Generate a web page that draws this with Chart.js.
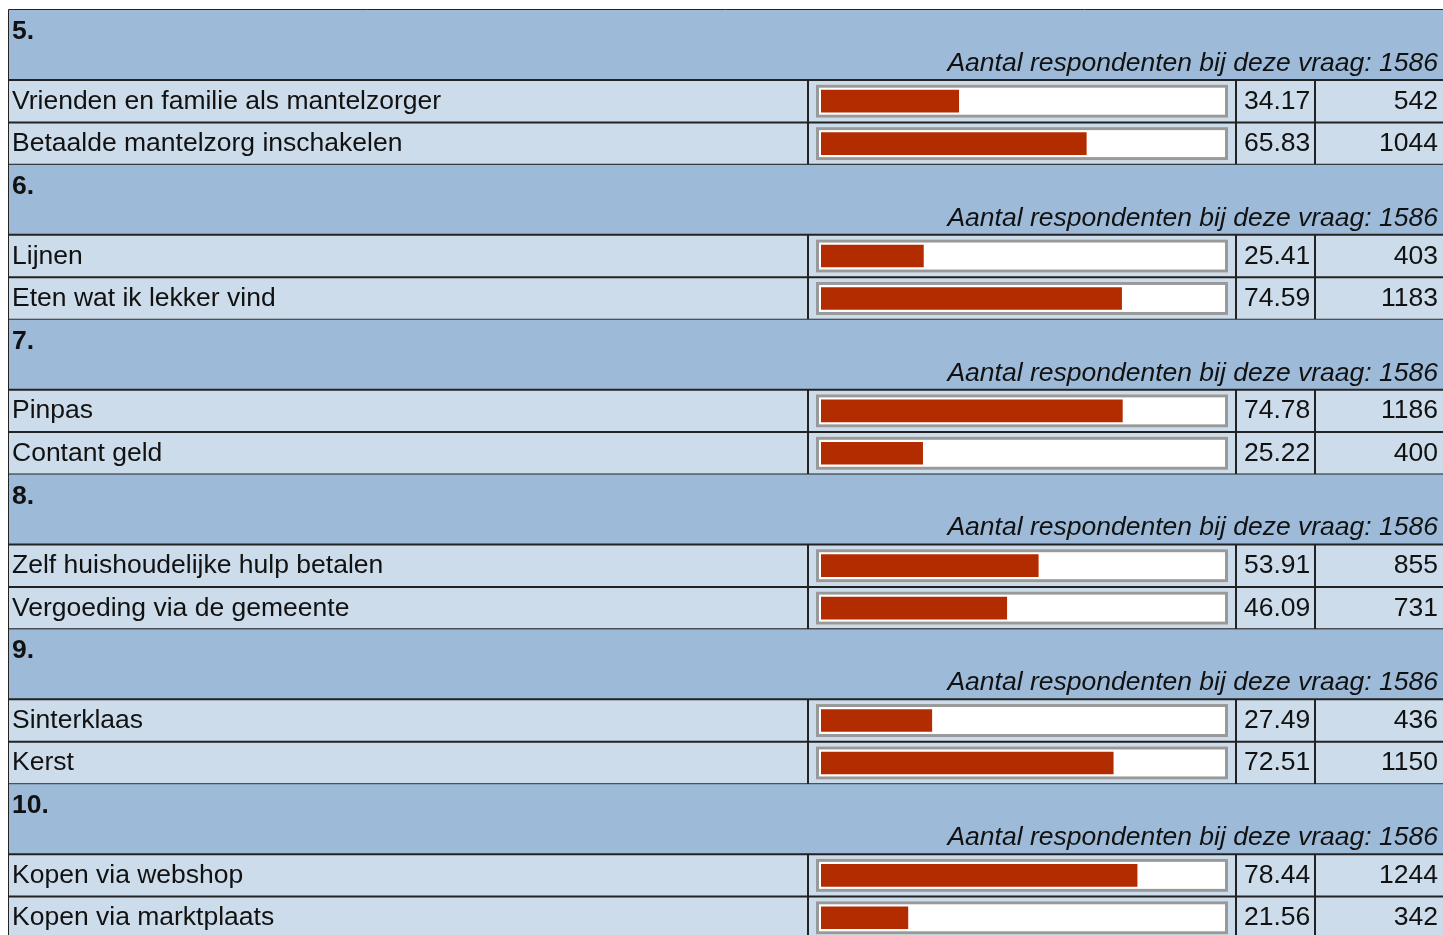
<!DOCTYPE html>
<html>
<head>
<meta charset="utf-8">
<title>Enquête resultaten</title>
<script src="https://cdn.jsdelivr.net/npm/chart.js@4/dist/chart.umd.min.js"></script>
<style>
  html, body { margin: 0; padding: 0; background: #fff; overflow: hidden; }
  #wrap { position: relative; width: 1443px; height: 945px; }
</style>
</head>
<body>
<div id="wrap"><canvas id="results"></canvas></div>
<script>
// survey data, one entry per question
const questions = ['5.', '6.', '7.', '8.', '9.', '10.'];
const respondents = [1586, 1586, 1586, 1586, 1586, 1586];
const answers = [
  ['Vrienden en familie als mantelzorger', 'Betaalde mantelzorg inschakelen'],
  ['Lijnen', 'Eten wat ik lekker vind'],
  ['Pinpas', 'Contant geld'],
  ['Zelf huishoudelijke hulp betalen', 'Vergoeding via de gemeente'],
  ['Sinterklaas', 'Kerst'],
  ['Kopen via webshop', 'Kopen via marktplaats']
];
const percentages = [
  [34.17, 65.83],
  [25.41, 74.59],
  [74.78, 25.22],
  [53.91, 46.09],
  [27.49, 72.51],
  [78.44, 21.56]
];
const counts = [
  [542, 1044],
  [403, 1183],
  [1186, 400],
  [855, 731],
  [436, 1150],
  [1244, 342]
];

// row heights in y-scale units (answer row = 1)
const HEAD = 1.65;
const BLOCK = HEAD + 2;

const rowCenter = (q, i) => q * BLOCK + HEAD + i + 0.5;

const barPoints = [];
percentages.forEach((vals, q) => {
  vals.forEach((v, i) => barPoints.push({ x: v, y: rowCenter(q, i) }));
});

const FONT = '"Liberation Sans", Arial, sans-serif';
const COL_LABEL = 808, COL_PCT = 1236, COL_CNT = 1315;

// table backgrounds, grid lines and the bar tracks
const tablePlugin = {
  id: 'tablePlugin',
  beforeDatasetsDraw(chart) {
    const ctx = chart.ctx;
    const y = chart.scales.y;
    const x = chart.scales.x;
    const W = chart.width;
    const left = 8;

    ctx.save();
    questions.forEach((q, qi) => {
      const top = y.getPixelForValue(qi * BLOCK);
      const headBottom = y.getPixelForValue(qi * BLOCK + HEAD);
      const end = y.getPixelForValue((qi + 1) * BLOCK);

      ctx.fillStyle = '#9dbbd9';
      ctx.fillRect(left, top, W - left, headBottom - top);
      ctx.fillStyle = '#cddcea';
      ctx.fillRect(left, headBottom, W - left, end - headBottom);

      // bar tracks
      answers[qi].forEach((a, i) => {
        const cy = y.getPixelForValue(rowCenter(qi, i));
        const x0 = x.getPixelForValue(0) - 5;
        const x1 = x.getPixelForValue(100) + 4;
        ctx.fillStyle = '#fff';
        ctx.fillRect(x0, cy - 16.5, x1 - x0, 33);
        ctx.strokeStyle = '#999';
        ctx.lineWidth = 3;
        ctx.strokeRect(x0 + 1.5, cy - 15, x1 - x0 - 3, 30);
      });

      // grid lines
      ctx.strokeStyle = '#222';
      ctx.lineWidth = 2;
      [headBottom, y.getPixelForValue(qi * BLOCK + HEAD + 1), end].forEach(ly => {
        ctx.beginPath();
        ctx.moveTo(left, ly);
        ctx.lineTo(W, ly);
        ctx.stroke();
      });
      [COL_LABEL, COL_PCT, COL_CNT].forEach(lx => {
        ctx.beginPath();
        ctx.moveTo(lx, headBottom);
        ctx.lineTo(lx, end);
        ctx.stroke();
      });

      // header texts
      ctx.fillStyle = '#111';
      ctx.textBaseline = 'alphabetic';
      ctx.font = `bold 26.5px ${FONT}`;
      ctx.textAlign = 'left';
      ctx.fillText(q, 12, top + 29);
      ctx.font = `italic 26.5px ${FONT}`;
      ctx.textAlign = 'right';
      ctx.fillText('Aantal respondenten bij deze vraag: ' + respondents[qi], 1438, headBottom - 9);

      // answer rows
      ctx.font = `26.5px ${FONT}`;
      answers[qi].forEach((a, i) => {
        const cy = y.getPixelForValue(rowCenter(qi, i));
        ctx.textAlign = 'left';
        ctx.fillText(a, 12, cy + 7.5);
        ctx.fillText(percentages[qi][i].toFixed(2), 1244, cy + 7.5);
        ctx.textAlign = 'right';
        ctx.fillText(String(counts[qi][i]), 1438, cy + 7.5);
      });
    });

    // outer border
    ctx.strokeStyle = '#222';
    ctx.lineWidth = 1;
    ctx.beginPath();
    ctx.moveTo(W, 9.5);
    ctx.lineTo(left + 0.5, 9.5);
    ctx.lineTo(left + 0.5, chart.height);
    ctx.stroke();
    ctx.restore();
  }
};

new Chart(document.getElementById('results'), {
  type: 'bar',
  data: {
    datasets: [{
      data: barPoints,
      backgroundColor: '#b22c00',
      borderWidth: 0,
      barThickness: 22
    }]
  },
  options: {
    indexAxis: 'y',
    responsive: true,
    maintainAspectRatio: false,
    animation: false,
    layout: {
      padding: { left: 821, right: 219, top: 10, bottom: 6 }
    },
    scales: {
      x: { type: 'linear', min: 0, max: 100, display: false },
      y: {
        type: 'linear', min: 0, max: BLOCK * questions.length,
        reverse: true, offset: false, display: false
      }
    },
    plugins: {
      legend: { display: false },
      tooltip: { enabled: false }
    }
  },
  plugins: [tablePlugin]
});
</script>
</body>
</html>
